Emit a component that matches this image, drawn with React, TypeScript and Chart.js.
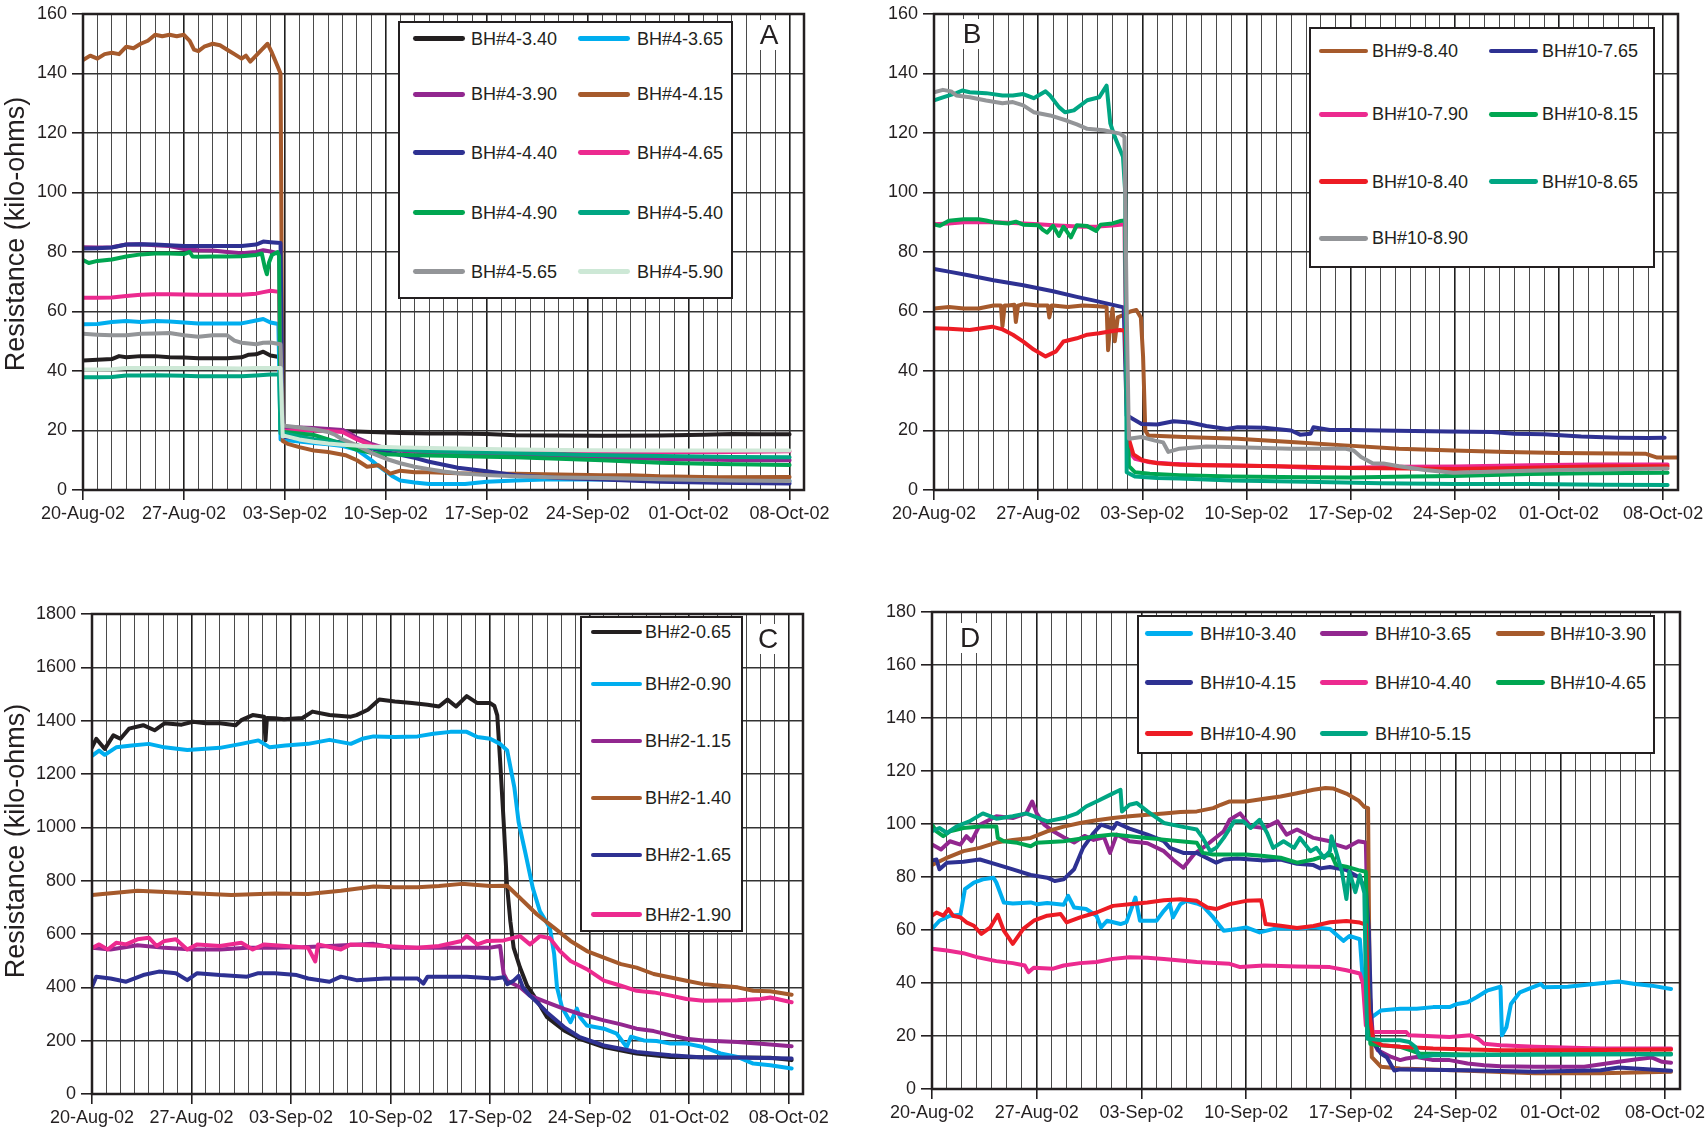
import React, { useEffect, useRef } from 'react';
import { Chart, registerables } from 'chart.js';

Chart.register(...registerables);

type Pt = [number, number];

const FONT = "'Liberation Sans', Arial, Helvetica, sans-serif";
const INK = '#231f20';

// ---- x axis (days since 20-Aug-02) ----
const dateTicks = ['20-Aug-02', '27-Aug-02', '03-Sep-02', '10-Sep-02', '17-Sep-02', '24-Sep-02', '01-Oct-02', '08-Oct-02'];
const xMaxDay = 50;

// ---- colours ----
const C_BLACK = '#231f20';
const C_CYAN = '#00aeef';
const C_PURPLE = '#92278f';
const C_BROWN = '#a65a2c';
const C_NAVY = '#2e3192';
const C_PINK = '#ec2a8f';
const C_GREEN = '#00a651';
const C_TEAL = '#00a683';
const C_GRAY = '#939598';
const C_MINT = '#cde8d6';
const C_RED = '#ed1c24';

// ================= Panel A (kilo-ohms) =================
const a_bh4_340: Pt[] = [[0,43.5],[1,43.8],[2,44],[2.5,45],[3,44.6],[4,45],[5,45],[6,44.6],[7,44.5],[8,44.3],[9,44.3],[10,44.3],[11,44.6],[11.5,45.5],[12,45.6],[12.5,46.5],[13,45.2],[13.5,44.8],[13.65,44],[13.75,20.5],[14,20.4],[15,20.2],[16,20],[17,20],[18,19.8],[20,19.5],[22,19.2],[24,19],[26,19],[28,18.8],[30,18.4],[33,18.3],[36,18.2],[40,18.3],[43,18.6],[45,18.8],[47,18.7],[49,18.7]];
const a_bh4_365: Pt[] = [[0,55.7],[1,55.8],[2,56.5],[3,56.8],[4,56.5],[5,56.8],[6,56.6],[7,56.3],[8,56],[9,56],[10,56],[11,56],[12,57],[12.5,57.5],[13,56.3],[13.55,55.8],[13.7,17],[14,16.8],[15,16.3],[16,15.8],[17,15.4],[18,14.8],[19,13.5],[20,10],[20.5,8],[21,6.3],[21.5,4.5],[22,3.2],[23,2.5],[24,2],[25,2],[26.5,2],[28,2.8],[30,3.2],[32,3.5],[36,3.5],[40,3.4],[44,3.2],[49,3]];
const a_bh4_390: Pt[] = [[0,81.6],[1,81.5],[2,81.6],[3,82.5],[4,82.6],[5,82.3],[6,82],[7,81],[8,80.6],[9,80.5],[10,80],[11,79.6],[12,80],[12.5,80.6],[13,80.2],[13.6,79.5],[13.75,21],[14,21.2],[15,21],[16,20.8],[17,20.5],[18,20.2],[18.5,19],[19,17.5],[20,15.5],[21,14],[22,13.2],[24,12.5],[27,12],[30,11.5],[34,11],[38,10.6],[42,10.3],[46,10],[49,10]];
const a_bh4_415: Pt[] = [[0,144.5],[0.5,146],[1,145],[1.5,146.5],[2,147],[2.5,146.5],[3,149],[3.5,148.5],[4,150],[4.5,151],[5,153],[5.5,152.5],[6,153],[6.5,152.5],[7,153],[7.4,151],[7.7,148],[8,147.5],[8.4,149],[9,150],[9.5,149.5],[10,148],[10.5,146.5],[11,145],[11.3,146],[11.6,144],[12,146],[12.4,148],[12.8,150],[13.1,147],[13.4,143.5],[13.7,140],[13.85,16.5],[14.2,15.5],[15,14.4],[16,13.3],[17,12.8],[18.2,11.7],[19,10],[19.7,7.8],[20.5,8.3],[21.3,5.5],[22,6.5],[23,6],[24,6],[26,5.6],[28,5.5],[30,5.5],[33,5.2],[36,5],[38,5],[40,4.6],[44,4.3],[49,4.4]];
const a_bh4_440: Pt[] = [[0,81.2],[1,81.3],[2,81.5],[3,82.5],[4,82.6],[5,82.5],[6,82.3],[7,82],[8,82],[9,82],[10,82],[11,82],[12,82.5],[12.5,83.5],[13,83.3],[13.7,83],[13.85,18],[14,17.8],[15,17.5],[16,17],[17,16.5],[18,16],[19,15],[20,14],[21,12.8],[22,11.8],[23,10.8],[24,9.5],[25,8.5],[26,7.5],[28,6.3],[30,5],[33,4],[36,3.5],[40,2.8],[44,2.4],[49,2.2]];
const a_bh4_465: Pt[] = [[0,64.6],[1,64.6],[2,64.7],[3,65.2],[4,65.6],[5,65.8],[6,65.8],[7,65.7],[8,65.6],[9,65.6],[10,65.6],[11,65.6],[12,66],[12.5,66.5],[13,67],[13.6,66.6],[13.75,20],[14,19.8],[15,20],[16,20],[17,19.8],[18,19.5],[19,17],[20,15],[21,14],[22,13.5],[24,13],[27,12.8],[30,12.6],[35,12.5],[40,12.6],[45,12.8],[49,13]];
const a_bh4_490: Pt[] = [[0,77.3],[0.4,76.3],[1,77],[2,77.5],[3,78.5],[4,79.2],[5,79.5],[6,79.5],[7,79.3],[7.4,80],[7.6,78.5],[8,78.4],[9,78.5],[10,78.5],[11,78.6],[12,79],[12.4,79.5],[12.6,75],[12.75,72.5],[12.9,76.5],[13.1,79],[13.5,80],[13.6,78.5],[13.7,20],[14,19.5],[15,19],[16,18.5],[17,17],[18,15.5],[19,13.5],[20,12.5],[21,12],[23,11.7],[25,11.5],[28,11.2],[30,11],[33,10.5],[36,10],[40,9.2],[44,8.7],[49,8.4]];
const a_bh4_540: Pt[] = [[0,37.9],[1,37.9],[2,38],[3,38.5],[4,38.5],[5,38.6],[6,38.5],[7,38.4],[8,38.2],[9,38.2],[10,38.2],[11,38.2],[12,38.5],[13,38.8],[13.6,38.8],[13.7,19],[14,19],[15,18],[16,17],[17,16.3],[18,15.8],[19,15],[20,14.2],[22,13.5],[24,13],[27,12.7],[30,12.4],[35,11.8],[40,11.4],[45,11.1],[49,11]];
const a_bh4_565: Pt[] = [[0,52.5],[1,52.2],[2,52],[3,52],[4,52.5],[5,52.6],[6,52.8],[7,52],[8,51.5],[9,52],[10,52],[10.5,50.2],[11,49.5],[12,49],[12.5,49.5],[13,49.6],[13.7,49],[13.85,22],[14,21.6],[15,21],[16,20.4],[17,19.5],[17.5,18.5],[18,17],[19,15],[20,12.5],[21,10.5],[22,9],[23,7.8],[24,7],[25,6.2],[26,5.6],[28,5],[30,4.6],[33,4.2],[36,4],[40,3.6],[45,3.2],[49,3]];
const a_bh4_590: Pt[] = [[0,40.5],[1,40.5],[2,40.6],[3,41],[5,41],[7,41],[9,41],[11,40.8],[12,41],[13,41],[13.7,41],[13.85,18],[14,18.2],[15,17],[16,16.2],[17,15.6],[18,15.2],[20,14.6],[22,14.3],[25,14],[28,13.8],[30,13.6],[35,13.4],[40,13.3],[45,13.3],[49,13.3]];

// ================= Panel B (kilo-ohms) =================
const b_bh9_840: Pt[] = [[0,61],[1,61.5],[2,61],[3,61],[4,62],[4.5,62],[4.6,55],[4.75,62],[5,62],[5.4,62.3],[5.5,56.5],[5.65,62],[6,62.5],[7,62],[7.65,62],[7.75,58],[7.9,62],[8,62],[9,61.5],[10,62],[11,61.8],[11.6,61.5],[11.7,47],[11.85,56],[12,61],[12.15,50],[12.35,58],[12.8,59],[13.2,60],[13.6,60.5],[13.9,58],[14.05,45],[14.2,20],[14.4,18.3],[16.8,17.8],[20.4,17.2],[24,16.1],[27.6,15],[31.25,13.9],[34.9,13.3],[38.5,12.8],[42,12.4],[47.8,12.2],[48.6,10.9],[50,10.9]];
const b_bh10_765: Pt[] = [[0,74.3],[1,73.4],[2.4,72.1],[4,70.5],[6,68.8],[8,66.8],[9.6,64.9],[11,63.4],[12.75,61.4],[12.95,25],[13.2,24.4],[13.95,22.2],[15,22],[16.1,23.1],[17.2,22.7],[18.3,21.5],[19.7,20.5],[20.4,21.1],[22.2,20.9],[24,20],[24.6,18.6],[25.3,18.9],[25.5,21.1],[26.6,20.2],[28,20.2],[30,20],[34.5,19.7],[37.5,19.5],[39,18.9],[41,18.7],[43.5,18],[46,17.6],[48,17.5],[49.1,17.6]];
const b_bh10_790: Pt[] = [[0,89.3],[1,89.6],[2,90],[3,90],[4,90],[5,89.8],[6,89.6],[7,89.3],[8,89],[9,88.7],[10,88.5],[11,88.6],[12,88.9],[12.8,89.3],[12.95,30],[13.1,13],[13.5,10.5],[14.5,9.3],[16,8.8],[18,8.4],[20,8.2],[23,8],[25.5,7.4],[28,7.5],[31,7.8],[35,7.9],[40,8.3],[44,8.6],[49.3,8.6]];
const b_bh10_815: Pt[] = [[0,89.3],[0.4,88.8],[1,90.5],[2,91],[3,91],[3.5,90.6],[4,90],[5,89.6],[5.5,90.2],[6,89.2],[7,89],[7.3,87.5],[7.6,86.5],[8,88.8],[8.4,85.4],[8.7,88.5],[9.2,84.9],[9.6,89],[10.3,88.7],[10.9,87.1],[11.2,89.2],[12,89.6],[12.5,90.4],[12.85,90.6],[12.95,40],[13.1,8],[13.5,6],[14.5,5.5],[16.5,5],[20,4.5],[25,4.3],[28,4.2],[32,4.5],[35,4.7],[40,5.4],[44,5.6],[49.3,5.8]];
const b_bh10_840: Pt[] = [[0,54.4],[1,54.2],[2.4,53.8],[3.9,54.9],[4.6,54],[5.3,52.2],[6,49.9],[6.7,47.2],[7.5,44.9],[8.2,46.6],[8.7,49.9],[9.6,51],[10.3,52.2],[11.1,52.7],[11.8,53.3],[12.5,53.8],[12.85,53.5],[12.95,30],[13.1,17],[13.4,12],[14,10],[15,9],[16.5,8.5],[18,8.3],[20,8.2],[25,7.8],[28,7.4],[32,7.2],[35,7.1],[40,7.5],[45,8],[49.3,8]];
const b_bh10_865: Pt[] = [[0,131],[0.6,132],[1.5,133.4],[1.9,134.3],[2.4,133.7],[3.5,133.4],[4.6,132.6],[5.3,132.6],[6,133.1],[6.7,131.7],[7.5,134],[7.8,132.6],[8.4,128.7],[8.8,127],[9.4,127.6],[10.3,131],[11.1,132],[11.6,135.9],[11.85,123.2],[12.15,118.7],[12.7,112],[12.85,100],[12.95,6],[13.5,4.5],[15,4],[16.5,3.9],[20,3.2],[25,2.8],[30,2.3],[35,2],[40,2],[45,1.8],[49.3,1.7]];
const b_bh10_890: Pt[] = [[0,133.7],[0.6,134.5],[1.15,134],[1.5,132.6],[2.4,132],[3.5,130.9],[4.6,130],[5.3,130.4],[6,129.3],[6.7,127],[7.8,125.9],[8.9,124.2],[9.6,122.9],[10.3,121.4],[11.4,120.9],[12.5,119.8],[12.8,118.7],[12.95,60],[13.1,17.2],[13.95,17.8],[14.85,16.6],[15.4,16],[15.75,12.8],[16.5,13.9],[18.3,14.6],[20.4,14.4],[24,13.9],[27.6,13.9],[28.2,13.3],[28.7,11.1],[29.5,8.9],[30.2,8.9],[31.25,8],[33,6.7],[34.9,5.8],[38.5,6.3],[42,6.7],[49.3,7.2]];

// ================= Panel C (kilo-ohms) =================
const c_bh2_065: Pt[] = [[0,1300],[0.3,1332],[0.9,1294],[1.5,1345],[2,1332],[2.6,1370],[3.6,1383],[4.4,1364],[5.1,1390],[6.3,1385],[7.1,1396],[8,1390],[9,1390],[10.1,1383],[10.5,1402],[11.3,1421],[12.1,1415],[12.2,1326],[12.3,1410],[12.85,1409],[13.5,1405],[14.8,1410],[15.5,1434],[16.7,1421],[18.2,1415],[18.6,1421],[19.4,1441],[20.2,1479],[21.3,1472],[22.5,1466],[23.6,1460],[24.4,1453],[25,1479],[25.6,1453],[26.35,1492],[27.1,1466],[28,1466],[28.3,1455],[28.5,1420],[28.7,1250],[28.95,1020],[29.18,786],[29.42,648],[29.65,549],[30.1,474],[30.6,406],[31.3,350],[32,288],[33.2,238],[34.3,207],[36,176],[38.3,152],[40.7,139],[43,138],[45.4,137],[47.7,136],[49.2,127]];
const c_bh2_090: Pt[] = [[0,1268],[0.5,1288],[0.9,1272],[1.7,1300],[2.8,1307],[4,1313],[5.1,1300],[6.7,1290],[9,1298],[10.5,1313],[11.7,1326],[12.5,1300],[13.6,1307],[15.2,1313],[16.7,1328],[18.2,1313],[19,1332],[19.8,1341],[21.3,1339],[22.9,1341],[24,1351],[25.2,1358],[26.35,1358],[27.1,1339],[28,1332],[28.7,1313],[29.2,1288],[29.7,1150],[30,1020],[30.5,898],[31,772],[31.5,685],[32.2,623],[32.5,525],[32.7,400],[33.05,325],[33.65,269],[34.1,320],[34.3,290],[34.8,257],[36,245],[36.9,226],[37.6,176],[37.9,215],[38.8,201],[39.7,199],[40.7,189],[41.8,189],[43,176],[44.2,152],[45.4,139],[46.5,114],[47.7,108],[49.2,96]];
const c_bh2_115: Pt[] = [[0,548],[1.3,542],[3.2,558],[5.1,548],[7.1,542],[9,542],[10.9,548],[12.85,548],[14.8,550],[16.7,555],[19.8,563],[21.3,548],[24.4,548],[27.9,548],[28.7,555],[28.95,450],[29.2,425],[30.1,400],[30.8,369],[32,344],[33.2,319],[34.3,300],[36,276],[37.2,261],[38.3,245],[39.5,236],[40.7,220],[41.8,207],[43,201],[45.4,195],[47.7,186],[49.2,179]];
const c_bh2_140: Pt[] = [[0,746],[3.2,762],[6.3,755],[9.8,746],[12.85,752],[15.2,750],[17.5,762],[19.8,778],[21.3,775],[22.9,775],[24.4,780],[26,788],[28,780],[29.2,781],[30.1,735],[31.3,673],[32.5,623],[33.65,574],[34.8,536],[36,511],[37.2,487],[38.3,474],[39.5,450],[40.7,437],[41.8,425],[43,412],[44.2,406],[45.4,400],[46.5,387],[47.7,385],[49.2,372]];
const c_bh2_165: Pt[] = [[0,402],[0.3,440],[1.3,433],[2.4,421],[3.6,446],[4.7,459],[5.9,453],[6.7,427],[7.4,453],[9,446],[10.9,440],[11.7,453],[12.85,453],[14.4,446],[15.2,433],[16.7,421],[17.5,440],[18.6,427],[20.6,433],[22.9,433],[23.3,414],[23.6,440],[26.35,440],[28.3,433],[28.95,438],[29.2,412],[29.65,425],[30,443],[30.3,400],[30.8,369],[31.3,344],[32,306],[33.2,251],[34.3,213],[36,182],[37.2,170],[38.3,158],[40.7,145],[43,137],[45.4,137],[49.2,133]];
const c_bh2_190: Pt[] = [[0,548],[0.5,561],[1.1,542],[1.7,567],[2.4,561],[3.2,580],[4,586],[4.55,555],[5.1,574],[5.9,580],[6.7,542],[7.4,561],[9,555],[10.5,567],[11.3,542],[12.1,561],[13.6,555],[15.2,548],[15.7,497],[15.9,561],[17.5,542],[18.2,561],[20.6,555],[22.9,548],[24.4,555],[26,574],[26.35,593],[27.1,561],[27.8,574],[28.95,576],[30.1,592],[30.8,561],[31.5,592],[32.2,584],[32.9,536],[33.65,499],[34.8,468],[36,425],[37.2,406],[38.3,387],[39.5,381],[40.7,369],[41.8,356],[43,350],[45.4,352],[47,356],[47.7,362],[49.2,344]];

// ================= Panel D (kilo-ohms) =================
const d_bh10_340: Pt[] = [[0,60.4],[0.5,63.5],[1.2,65.4],[1.9,65.75],[2.2,75.4],[2.8,77.9],[3.4,79.1],[4.1,79.75],[4.3,77.9],[4.8,70.4],[5.4,70],[6.6,70.4],[7,69.75],[7.7,70.2],[8.8,69.5],[9.1,72.9],[9.5,68.5],[10.3,67.9],[11,65.4],[11.3,61],[11.7,63.5],[12.6,62.25],[13,63],[13.6,72.25],[13.9,63.5],[15,63.5],[15.5,67.25],[15.9,69.75],[16.1,64.75],[16.6,69.75],[17,71],[17.7,70],[18.1,69.1],[18.8,64.75],[19.5,59.75],[20.4,60.4],[21,61],[21.9,59.1],[23,60.6],[24.4,60.5],[25.5,61],[26.6,60.4],[27.5,55.9],[27.9,57.75],[28.6,56.5],[28.75,45],[29,30],[29.4,27.1],[30,29.6],[31.3,30.25],[32.4,30.25],[33.5,30.9],[34.6,30.9],[35.1,32.1],[35.8,32.75],[36.4,34.6],[37.1,37.1],[38,38.6],[38.1,20.25],[38.4,23.4],[38.7,32.1],[39.3,36.5],[40,38.1],[40.7,39.6],[40.9,38.4],[42.5,38.6],[44.7,39.9],[45.9,40.6],[47,39.6],[48.1,39],[49.4,37.75]];
const d_bh10_365: Pt[] = [[0,92.25],[0.6,90.4],[1.2,93.5],[1.9,92.25],[2.3,95.4],[2.65,93.5],[3.2,99.75],[4.3,102.9],[5.4,102.25],[6.3,104],[6.7,108.5],[7,104],[7.5,99.75],[8.1,97.25],[8.8,95],[9.5,93],[10.2,95.5],[10.8,94],[11.5,95],[11.9,89.1],[12.35,96],[13.2,93.5],[14.4,92.75],[15.5,89.75],[16.1,86.6],[16.8,83.5],[17.5,88.5],[18.4,92.25],[19.5,97.25],[19.9,101.6],[20.6,104],[21.3,99.1],[22.2,98.5],[23.1,101],[23.7,96],[24.4,97.9],[25.5,94.75],[26.6,93.5],[27,92.2],[27.7,91],[28.5,93.5],[29,93],[29.2,40],[29.5,18],[29.8,14.6],[30.7,12.1],[31.3,10.9],[31.7,11.5],[32.4,12.1],[33.5,10.9],[34.6,10.9],[35.8,9.6],[36.9,9],[38,8.6],[40.3,8.4],[43.6,8.4],[45.9,10.25],[47,11.1],[48.1,11.9],[48.8,10.25],[49.4,9.9]];
const d_bh10_390: Pt[] = [[0,84.5],[0.9,87],[2.1,89.75],[3.2,91],[4.3,93],[5.4,94],[6.6,94.75],[7.7,97.25],[8.8,99],[9.9,100.4],[11,101.4],[12.1,102.25],[13.2,102.9],[14.4,103.5],[15.5,104],[16.6,104.5],[17.7,104.75],[18.8,106],[19.3,107.25],[19.9,108.5],[21,108.5],[22.2,109.5],[23.3,110.4],[24.4,111.6],[25.5,112.9],[26.3,113.6],[26.8,113.4],[27.7,111.5],[28.5,108.9],[28.9,106.5],[29.15,106],[29.25,40],[29.4,12],[30,8.4],[31.3,7.75],[35.8,6.9],[40.3,5.9],[44.7,5.9],[47,6.25],[49.4,6.5]];
const d_bh10_415: Pt[] = [[0,86.25],[0.3,86.6],[0.5,82.9],[1,85.4],[2.1,85.75],[3.2,86.6],[4.3,84.75],[5.4,82.9],[6.6,80.75],[7.7,79.75],[8.2,78.5],[8.8,79.1],[9.5,82.9],[10.1,91],[10.8,96.6],[11.3,99.75],[12.1,98.25],[12.35,100.4],[13.2,98.25],[14.4,96],[15.5,93.5],[15.9,91],[16.8,89.1],[17.7,89.1],[19,85.4],[19.5,86.6],[20.4,87],[21.3,86.6],[22.2,86.25],[23.3,86.6],[24.4,85],[25.5,84.5],[25.96,83.25],[26.6,83.75],[27.7,82.6],[28.5,80],[29,75.6],[29.2,60],[29.4,18.4],[30,13.4],[30.4,12],[30.9,7],[31.3,7.4],[35.8,7.1],[40.3,6.5],[44.7,7.1],[45.9,8.1],[49.4,6.9]];
const d_bh10_440: Pt[] = [[0,52.9],[1,52.25],[2.1,51.25],[3,49.75],[4.3,48.25],[5.4,47.5],[6.2,46.6],[6.45,44.1],[6.8,45.75],[8.1,45.4],[8.8,46.6],[9.9,47.5],[11,47.9],[12.1,49.1],[13.2,49.75],[14.4,49.5],[15.5,49.1],[16.6,48.5],[17.7,47.9],[19.9,47.25],[20.6,46],[22.2,46.6],[24.4,46.25],[26.6,46],[27.7,44.8],[28.6,43.6],[28.8,40],[29,24],[29.3,21.5],[29.8,21.5],[31.7,21.5],[31.9,20.25],[34.6,19.6],[36,20.25],[36.5,19],[36.9,17.1],[38,16.5],[40.3,15.9],[44.7,15.25],[49.4,15.25]];
const d_bh10_465: Pt[] = [[0,99.75],[0.3,97.25],[0.75,95.4],[1.2,97.25],[2.1,98.5],[3.2,99.1],[4.3,99.1],[4.4,94.75],[4.8,93.5],[5.7,92.9],[6.6,91.6],[7,92.9],[8.8,93.5],[11,95.4],[12.1,96],[13.2,95.4],[14.4,94.75],[15.5,94.1],[16.6,93.5],[17.7,92.9],[18.1,89.1],[18.8,88.5],[21,88.5],[22.2,87.9],[23.3,87.25],[24.4,85.4],[25.5,86.6],[26.2,87.9],[26.7,88.4],[27,84.6],[27.7,83.9],[28.5,82.6],[29,82],[29.15,40],[29.3,17],[30,16.5],[31.3,15.9],[32,14.6],[32.6,13.4],[35.8,13],[40.3,13],[44.7,13.1],[49.4,13.3]];
const d_bh10_490: Pt[] = [[0,65.4],[0.3,66.6],[0.76,65.4],[1.1,67.9],[1.4,65.4],[1.9,64.75],[2.3,62.9],[2.8,61.6],[3.3,58.5],[3.9,61],[4.4,65.75],[4.8,59.75],[5.4,54.75],[6.1,60.4],[6.8,63.5],[7.7,65.4],[8.6,66],[9,62.9],[9.9,64.75],[11,66.6],[12.1,69.1],[13.2,69.75],[14.4,70.4],[15.5,71.25],[16.6,71.6],[17.7,71],[18.4,68.5],[19,67.9],[19.9,69.75],[21,71],[22,71.25],[22.3,62.25],[23.3,61.6],[24.4,60.75],[25.5,61.5],[26.6,62.9],[27.7,63.4],[28.6,62.8],[29,62],[29.2,30],[29.5,18.4],[30.1,16.5],[31.3,15.9],[33.5,15.25],[38,14.6],[42.5,14.6],[49.4,14.9]];
const d_bh10_515: Pt[] = [[0,97.25],[0.5,98.5],[1,96.6],[1.65,99.1],[2.5,101],[3.4,104],[4.3,102],[5.4,102.9],[6.3,104],[7,102.5],[7.7,101],[8.8,102.25],[9.7,104],[10.3,106.6],[11,108.5],[11.9,111],[12.6,112.9],[12.7,104.75],[13.2,107.25],[13.7,107.9],[14.4,104.75],[15.5,100.4],[16.6,99.1],[17.7,97.9],[18.1,94.75],[18.6,89.75],[19,91],[19.5,94.75],[20.2,101],[20.8,101],[21.3,98.5],[21.9,101.6],[22.4,96.6],[22.8,91],[23.5,93.5],[24.2,91],[24.6,94.75],[25.3,89.75],[25.7,91],[26.2,87.25],[26.6,89.75],[26.7,95.4],[27,89.7],[27.4,82],[27.7,71.7],[27.9,82],[28.3,74.3],[28.6,80.7],[28.9,74],[29,40],[29.1,19],[30.1,18.4],[31.3,18.4],[31.9,17.75],[32.3,15.9],[32.6,12.1],[33.5,12.75],[35.8,12.75],[40.3,13],[44.7,13.1],[49.4,13]];

// ---------------- panel definitions ----------------
interface SeriesDef { label: string; color: string; points: Pt[] }
interface PanelDef {
  key: string;
  canvas: { x: number; y: number; w: number; h: number };
  yAxisW: number; xAxisH: number; padTop: number; padRight: number;
  yMax: number; yStep: number;
  series: SeriesDef[];
}

const panelA: PanelDef = {
  key: 'A', canvas: { x: 0, y: 0, w: 860, h: 545 }, yAxisW: 83, xAxisH: 55, padTop: 10, padRight: 56,
  yMax: 160, yStep: 20,
  series: [
    { label: 'BH#4-3.40', color: C_BLACK, points: a_bh4_340 },
    { label: 'BH#4-3.65', color: C_CYAN, points: a_bh4_365 },
    { label: 'BH#4-3.90', color: C_PURPLE, points: a_bh4_390 },
    { label: 'BH#4-4.15', color: C_BROWN, points: a_bh4_415 },
    { label: 'BH#4-4.40', color: C_NAVY, points: a_bh4_440 },
    { label: 'BH#4-4.65', color: C_PINK, points: a_bh4_465 },
    { label: 'BH#4-4.90', color: C_GREEN, points: a_bh4_490 },
    { label: 'BH#4-5.40', color: C_TEAL, points: a_bh4_540 },
    { label: 'BH#4-5.65', color: C_GRAY, points: a_bh4_565 },
    { label: 'BH#4-5.90', color: C_MINT, points: a_bh4_590 },
  ],
};
const panelB: PanelDef = {
  key: 'B', canvas: { x: 862, y: 0, w: 845, h: 545 }, yAxisW: 72, xAxisH: 55, padTop: 10, padRight: 29,
  yMax: 160, yStep: 20,
  series: [
    { label: 'BH#9-8.40', color: C_BROWN, points: b_bh9_840 },
    { label: 'BH#10-7.65', color: C_NAVY, points: b_bh10_765 },
    { label: 'BH#10-7.90', color: C_PINK, points: b_bh10_790 },
    { label: 'BH#10-8.15', color: C_GREEN, points: b_bh10_815 },
    { label: 'BH#10-8.40', color: C_RED, points: b_bh10_840 },
    { label: 'BH#10-8.65', color: C_TEAL, points: b_bh10_865 },
    { label: 'BH#10-8.90', color: C_GRAY, points: b_bh10_890 },
  ],
};
const panelC: PanelDef = {
  key: 'C', canvas: { x: 0, y: 600, w: 860, h: 527 }, yAxisW: 92, xAxisH: 33, padTop: 11, padRight: 57,
  yMax: 1800, yStep: 200,
  series: [
    { label: 'BH#2-0.65', color: C_BLACK, points: c_bh2_065 },
    { label: 'BH#2-0.90', color: C_CYAN, points: c_bh2_090 },
    { label: 'BH#2-1.15', color: C_PURPLE, points: c_bh2_115 },
    { label: 'BH#2-1.40', color: C_BROWN, points: c_bh2_140 },
    { label: 'BH#2-1.65', color: C_NAVY, points: c_bh2_165 },
    { label: 'BH#2-1.90', color: C_PINK, points: c_bh2_190 },
  ],
};
const panelD: PanelDef = {
  key: 'D', canvas: { x: 862, y: 598, w: 845, h: 529 }, yAxisW: 70, xAxisH: 38, padTop: 11, padRight: 27,
  yMax: 180, yStep: 20,
  series: [
    { label: 'BH#10-3.40', color: C_CYAN, points: d_bh10_340 },
    { label: 'BH#10-3.65', color: C_PURPLE, points: d_bh10_365 },
    { label: 'BH#10-3.90', color: C_BROWN, points: d_bh10_390 },
    { label: 'BH#10-4.15', color: C_NAVY, points: d_bh10_415 },
    { label: 'BH#10-4.40', color: C_PINK, points: d_bh10_440 },
    { label: 'BH#10-4.65', color: C_GREEN, points: d_bh10_465 },
    { label: 'BH#10-4.90', color: C_RED, points: d_bh10_490 },
    { label: 'BH#10-5.15', color: C_TEAL, points: d_bh10_515 },
  ],
};

// legend layouts (page coordinates)
interface LegendLayout {
  box: { l: number; t: number; r: number; b: number };
  rows: number[];
  cols: { l1: number; l2: number; tx: number }[];
}
const legendA: LegendLayout = {
  box: { l: 398, t: 21, r: 733, b: 299 }, rows: [38.5, 94.3, 152.7, 212.5, 271.8],
  cols: [{ l1: 413, l2: 465, tx: 471 }, { l1: 578, l2: 630, tx: 637 }],
};
const legendB: LegendLayout = {
  box: { l: 1309, t: 27, r: 1655, b: 268 }, rows: [51, 114.3, 181.7, 238.3],
  cols: [{ l1: 1319, l2: 1368, tx: 1372 }, { l1: 1489, l2: 1538, tx: 1542 }],
};
const legendC: LegendLayout = {
  box: { l: 580, t: 616, r: 743, b: 932 }, rows: [632, 684, 741, 798, 855, 914.5],
  cols: [{ l1: 591, l2: 642, tx: 645 }],
};
const legendD: LegendLayout = {
  box: { l: 1137, t: 615, r: 1655, b: 753.5 }, rows: [633.6, 682.8, 733.7],
  cols: [{ l1: 1145, l2: 1193, tx: 1200 }, { l1: 1320, l2: 1368, tx: 1375 }, { l1: 1496, l2: 1545, tx: 1550 }],
};

const framePlugin = {
  id: 'frame',
  afterDatasetsDraw(chart: any) {
    const { ctx, chartArea } = chart;
    const { left, top, right, bottom } = chartArea;
    ctx.save();
    ctx.strokeStyle = INK;
    ctx.lineWidth = 2.5;
    ctx.strokeRect(left, top, right - left, bottom - top);
    ctx.restore();
  },
};

const isWeek = (v: number) => Math.abs(v % 7) < 1e-9;

function buildConfig(p: PanelDef): any {
  const n = p.series.length;
  return {
    type: 'line',
    data: {
      datasets: p.series.map((s, i) => ({
        label: s.label,
        data: s.points.map(([x, y]) => ({ x, y })),
        borderColor: s.color,
        backgroundColor: s.color,
        borderWidth: 4,
        pointRadius: 0,
        pointHoverRadius: 0,
        tension: 0,
        fill: false,
        borderJoinStyle: 'round',
        borderCapStyle: 'round',
        order: n - i,
      })),
    },
    options: {
      animation: false,
      responsive: false,
      maintainAspectRatio: false,
      events: [],
      layout: { padding: { top: p.padTop, right: p.padRight, left: 0, bottom: 0 } },
      plugins: { legend: { display: false }, tooltip: { enabled: false }, title: { display: false } },
      scales: {
        x: {
          type: 'linear',
          min: 0,
          max: xMaxDay,
          afterBuildTicks: (scale: any) => {
            const t = [];
            for (let d = 0; d <= xMaxDay; d++) t.push({ value: d });
            scale.ticks = t;
          },
          afterFit: (scale: any) => { scale.height = p.xAxisH; },
          border: { display: false },
          grid: {
            drawOnChartArea: true,
            color: (c: any) => (c.tick && isWeek(c.tick.value) ? '#1e1e1e' : '#4a4a4a'),
            lineWidth: (c: any) => (c.tick && isWeek(c.tick.value) ? 1.6 : 1),
            tickLength: 10,
            tickColor: (c: any) => (c.tick && isWeek(c.tick.value) && c.tick.value < xMaxDay ? INK : 'rgba(0,0,0,0)'),
          },
          ticks: {
            autoSkip: false,
            maxRotation: 0,
            minRotation: 0,
            padding: 3,
            color: INK,
            font: { family: FONT, size: 18 },
            callback: (v: any) => {
              const d = Number(v);
              return isWeek(d) && d <= 49 ? dateTicks[d / 7] : '';
            },
          },
        },
        y: {
          type: 'linear',
          min: 0,
          max: p.yMax,
          afterFit: (scale: any) => { scale.width = p.yAxisW; },
          border: { display: false },
          grid: {
            color: '#333333',
            lineWidth: 1.6,
            tickLength: 11,
            tickColor: INK,
          },
          ticks: {
            stepSize: p.yStep,
            padding: 5,
            color: INK,
            font: { family: FONT, size: 18, lineHeight: 1 },
            callback: (v: any) => String(v),
          },
        },
      },
    },
    plugins: [framePlugin],
  };
}

function Panel({ p }: { p: PanelDef }) {
  const ref = useRef<HTMLCanvasElement>(null);
  useEffect(() => {
    if (!ref.current) return;
    const chart = new Chart(ref.current, buildConfig(p));
    return () => chart.destroy();
  }, [p]);
  return (
    <canvas
      ref={ref}
      width={p.canvas.w}
      height={p.canvas.h}
      style={{ position: 'absolute', left: p.canvas.x, top: p.canvas.y, width: p.canvas.w, height: p.canvas.h }}
    />
  );
}

function Legend({ p, lay }: { p: PanelDef; lay: LegendLayout }) {
  const { box } = lay;
  const nc = lay.cols.length;
  return (
    <>
      <div
        style={{
          position: 'absolute', left: box.l, top: box.t, width: box.r - box.l, height: box.b - box.t,
          background: '#fff', border: `2px solid ${INK}`, boxSizing: 'border-box',
        }}
      />
      {p.series.map((s, i) => {
        const row = Math.floor(i / nc);
        const col = lay.cols[i % nc];
        const y = lay.rows[row];
        return (
          <React.Fragment key={s.label}>
            <div
              style={{
                position: 'absolute', left: col.l1, top: y - 2.4, width: col.l2 - col.l1, height: 4.8,
                background: s.color, borderRadius: 2.4,
              }}
            />
            <div
              style={{
                position: 'absolute', left: col.tx, top: y - 11, height: 22, lineHeight: '22px',
                fontFamily: FONT, fontSize: 18, color: INK, whiteSpace: 'nowrap',
              }}
            >
              {s.label}
            </div>
          </React.Fragment>
        );
      })}
    </>
  );
}

function Letter({ text, cx, cy }: { text: string; cx: number; cy: number }) {
  return (
    <div
      style={{
        position: 'absolute', left: cx - 13, top: cy - 15, width: 26, height: 30, lineHeight: '30px',
        background: '#fff', textAlign: 'center', fontFamily: FONT, fontSize: 28, color: INK,
      }}
    >
      {text}
    </div>
  );
}

function AxisTitle({ cx, cy }: { cx: number; cy: number }) {
  return (
    <div
      style={{
        position: 'absolute', left: cx, top: cy, transform: 'translate(-50%, -50%) rotate(-90deg)',
        fontFamily: FONT, fontSize: 27, lineHeight: '30px', color: INK, whiteSpace: 'nowrap',
      }}
    >
      Resistance (kilo-ohms)
    </div>
  );
}

export default function App() {
  return (
    <div
      style={{
        position: 'fixed', left: 0, top: 0, width: 1707, height: 1127, background: '#fff', overflow: 'hidden',
      }}
    >
      <Panel p={panelA} />
      <Panel p={panelB} />
      <Panel p={panelC} />
      <Panel p={panelD} />
      <Legend p={panelA} lay={legendA} />
      <Legend p={panelB} lay={legendB} />
      <Legend p={panelC} lay={legendC} />
      <Legend p={panelD} lay={legendD} />
      <Letter text="A" cx={769} cy={35} />
      <Letter text="B" cx={972} cy={34} />
      <Letter text="C" cx={768} cy={639} />
      <Letter text="D" cx={970} cy={638} />
      <AxisTitle cx={15} cy={234} />
      <AxisTitle cx={15} cy={841} />
    </div>
  );
}
